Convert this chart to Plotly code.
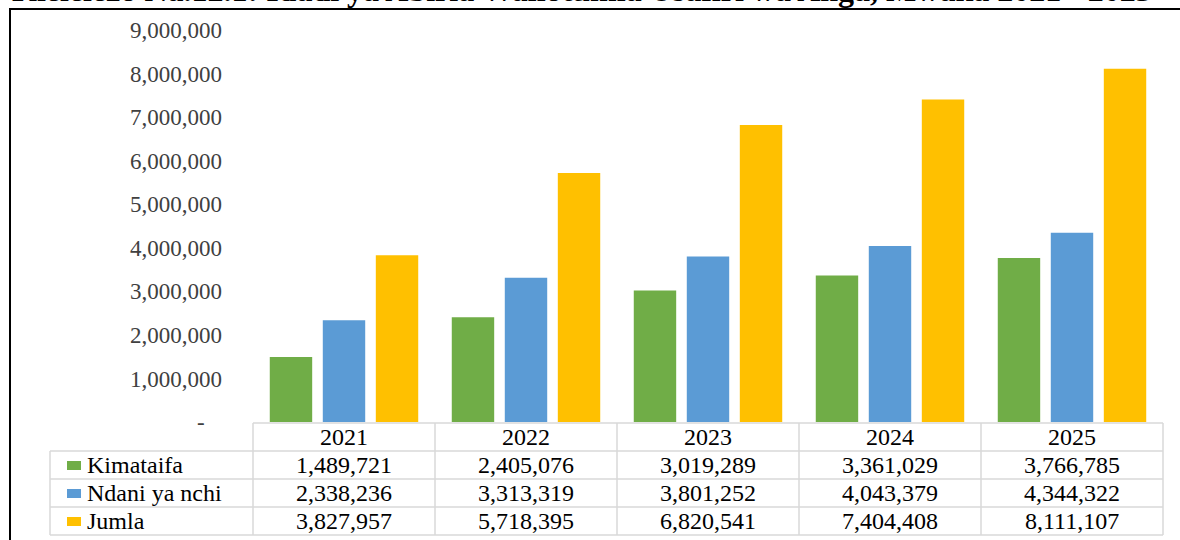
import plotly.graph_objects as go

# ---------------- data ----------------
years = ["2021", "2022", "2023", "2024", "2025"]
kimataifa = [1489721, 2405076, 3019289, 3361029, 3766785]
ndani_ya_nchi = [2338236, 3313319, 3801252, 4043379, 4344322]
jumla = [3827957, 5718395, 6820541, 7404408, 8111107]
series_names = ["Kimataifa", "Ndani ya nchi", "Jumla"]
series_values = [kimataifa, ndani_ya_nchi, jumla]
series_colors = ["#70AD47", "#5B9BD5", "#FFC000"]
ytick_vals = [0, 1000000, 2000000, 3000000, 4000000, 5000000,
              6000000, 7000000, 8000000, 9000000]
ytick_text = ["-\u00a0\u00a0\u00a0"] + [f"{v:,}" for v in ytick_vals[1:]]
title_text = "Kielelezo Na.12.1: Idadi ya Abiria Waliotumia Usafiri wa Anga, Mwaka 2021 - 2025"

# ---------------- layout geometry (pixels) ----------------
W, H = 1180, 540
PL, PR, PT, PB = 253, 1163, 30, 422
FONT = "Liberation Serif, Times New Roman, serif"


def px_x(x):
    return (x - PL) / (PR - PL)


def px_y(y):
    return (PB - y) / (PB - PT)


fig = go.Figure()
for name, vals, col in zip(series_names, series_values, series_colors):
    fig.add_trace(go.Bar(x=years, y=vals, name=name, marker_color=col,
                         marker_line_width=0, showlegend=False))

shapes = []
annotations = []

# chart frame (cropped on right & bottom)
shapes.append(dict(type="rect", xref="paper", yref="paper",
                   x0=px_x(10), x1=px_x(1210), y0=px_y(570), y1=px_y(9),
                   line=dict(color="#000000", width=2), fillcolor="rgba(0,0,0,0)",
                   layer="below"))

# ---------------- data table ----------------
grid = "#D9D9D9"
row_h = 28
table_top = PB + 1
leg_left = 50
n = len(years)
col_edges = [k / n for k in range(n + 1)]  # paper x of category boundaries
row_edges = [table_top + k * row_h for k in range(len(series_names) + 2)]

# horizontal lines
for k, ry in enumerate(row_edges):
    x0 = 0 if k == 0 else px_x(leg_left)
    shapes.append(dict(type="line", xref="paper", yref="paper",
                       x0=x0, x1=1, y0=px_y(ry), y1=px_y(ry),
                       line=dict(color=grid, width=1.5)))
# vertical lines
for ce in col_edges:
    shapes.append(dict(type="line", xref="paper", yref="paper",
                       x0=ce, x1=ce, y0=px_y(row_edges[0]), y1=px_y(row_edges[-1]),
                       line=dict(color=grid, width=1.5)))
shapes.append(dict(type="line", xref="paper", yref="paper",
                   x0=px_x(leg_left), x1=px_x(leg_left),
                   y0=px_y(row_edges[1]), y1=px_y(row_edges[-1]),
                   line=dict(color=grid, width=1.5)))

TABLE_FS = 24
# header years
for i, yr in enumerate(years):
    annotations.append(dict(x=i, xref="x", y=px_y(table_top + row_h / 2), yref="paper",
                            text=yr, showarrow=False, xanchor="center", yanchor="middle",
                            font=dict(family=FONT, size=TABLE_FS, color="#000000")))
# rows
for r, (name, vals, col) in enumerate(zip(series_names, series_values, series_colors)):
    cy = table_top + row_h * (r + 1) + row_h / 2
    shapes.append(dict(type="rect", xref="paper", yref="paper",
                       x0=px_x(67), x1=px_x(81), y0=px_y(cy + 5), y1=px_y(cy - 4),
                       line=dict(width=0), fillcolor=col))
    annotations.append(dict(x=px_x(85), xref="paper", y=px_y(cy), yref="paper",
                            text=name, showarrow=False, xanchor="left", yanchor="middle",
                            font=dict(family=FONT, size=TABLE_FS, color="#000000")))
    for i, v in enumerate(vals):
        annotations.append(dict(x=i, xref="x", y=px_y(cy), yref="paper",
                                text=f"{v:,}", showarrow=False, xanchor="center",
                                yanchor="middle",
                                font=dict(family=FONT, size=TABLE_FS, color="#000000")))

# title (cropped at top)
annotations.append(dict(x=px_x(582), xref="paper", y=px_y(-10), yref="paper",
                        text="<b>" + title_text + "</b>", showarrow=False,
                        xanchor="center", yanchor="middle",
                        font=dict(family=FONT, size=32, color="#000000")))

fig.update_layout(
    width=W, height=H,
    margin=dict(l=PL, r=W - PR, t=PT, b=H - PB, pad=0),
    paper_bgcolor="white", plot_bgcolor="white",
    barmode="group", bargap=0.126, bargroupgap=0.2,
    shapes=shapes, annotations=annotations,
    xaxis=dict(type="category", showticklabels=False, showgrid=False,
               zeroline=False, showline=False, ticks="", range=[-0.5, 4.5]),
    yaxis=dict(range=[0, 9000000], tickvals=ytick_vals, ticktext=ytick_text,
               showgrid=False, zeroline=False, showline=False, ticks="",
               ticklabelstandoff=30,
               tickfont=dict(family=FONT, size=23, color="#404040")),
    font=dict(family=FONT),
)

fig.write_html("out.html",
               config={"displayModeBar": False},
               post_script="document.body.style.margin='0px';"
                           "document.body.style.overflow='hidden';")
